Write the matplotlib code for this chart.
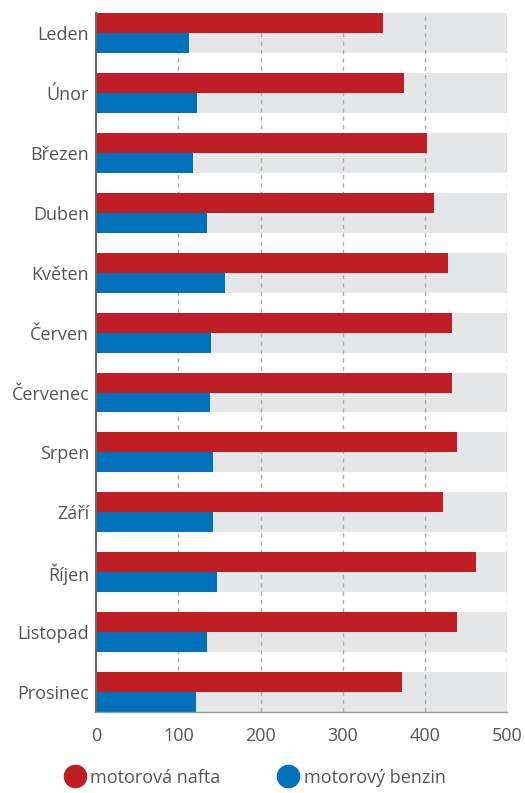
import matplotlib.pyplot as plt
import numpy as np
from matplotlib.lines import Line2D

months = ["Leden", "Únor", "Březen", "Duben", "Květen", "Červen",
          "Červenec", "Srpen", "Září", "Říjen", "Listopad", "Prosinec"]
nafta = [349, 375, 403, 411, 428, 433, 433, 439, 422, 462, 439, 372]
benzin = [113, 123, 118, 135, 157, 140, 138, 142, 142, 147, 135, 122]
ticks = [0, 100, 200, 300, 400, 500]

red = "#be1e24"
blue = "#0071bb"
band = "#e5e6e8"
txt = "#555555"

plt.rcParams['font.family'] = ['Open Sans', 'DejaVu Sans']

fig = plt.figure(figsize=(5.25, 7.93), dpi=100)
ax = fig.add_axes([0.183, 0.102, 0.783, 0.8816])

y = np.arange(len(months))
h = 1 / 3

ax.barh(y, [ticks[-1]] * len(months), height=2 * h, color=band, zorder=0)
for t in ticks[1:]:
    ax.axvline(t, color="#aaaaaa", lw=1, ls=(0, (3, 3)), zorder=1)
ax.barh(y - h / 2, nafta, height=h, color=red, zorder=2)
ax.barh(y + h / 2, benzin, height=h, color=blue, zorder=2)

ax.set_xlim(0, 500)
ax.set_ylim(len(months) - 1 + h, -h)
ax.set_xticks(ticks)
ax.set_yticks(y)
ax.set_yticklabels(months)
ax.tick_params(axis="both", length=0, labelsize=13, colors=txt)
ax.tick_params(axis="x", pad=11)
ax.tick_params(axis="y", pad=5)

for s in ["top", "right"]:
    ax.spines[s].set_visible(False)
ax.spines["left"].set_color("#666666")
ax.spines["left"].set_linewidth(1.5)
ax.spines["bottom"].set_color("#999999")
ax.spines["bottom"].set_linewidth(1)

handles = [Line2D([], [], marker="o", ls="", color=red, markersize=16),
           Line2D([], [], marker="o", ls="", color=blue, markersize=16)]
leg = fig.legend(handles, ["motorová nafta", "motorový benzin"], ncol=2,
                 loc="center", bbox_to_anchor=(0.483, 0.0195), frameon=False,
                 fontsize=13, handletextpad=0.1, columnspacing=3.0,
                 handlelength=1.5)
for t in leg.get_texts():
    t.set_color(txt)

fig.savefig("out.png", dpi=100)
